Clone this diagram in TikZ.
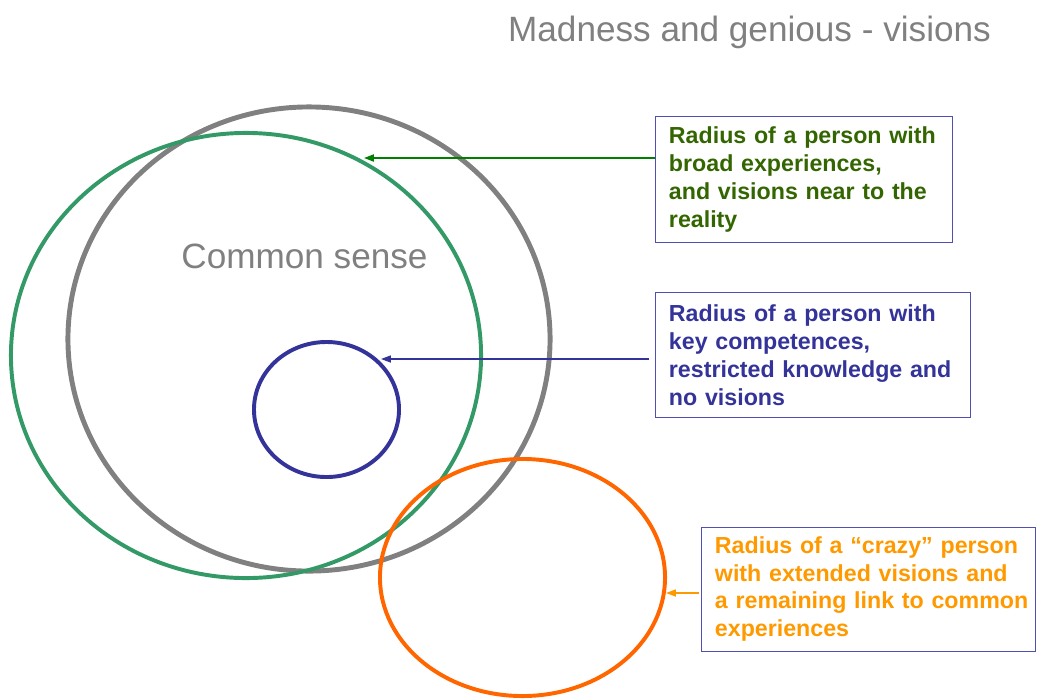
\documentclass[tikz,border=0pt]{standalone}
\usepackage{fontspec}
\setmainfont{Liberation Sans}
\usepackage{xcolor}
\usetikzlibrary{shapes.geometric,arrows.meta}

\definecolor{csgray}{RGB}{128,128,128}
\definecolor{broadgreen}{RGB}{51,153,102}
\definecolor{broadtext}{RGB}{51,102,0}
\definecolor{broadarrow}{RGB}{0,128,0}
\definecolor{keyblue}{RGB}{51,51,153}
\definecolor{crazyorange}{RGB}{255,102,0}
\definecolor{crazytext}{RGB}{255,153,0}
\definecolor{boxline}{RGB}{80,80,180}

\begin{document}
\begin{tikzpicture}[x=0.025cm,y=-0.025cm,
    radius/.style={draw, ellipse, inner sep=0pt},
    infobox/.style={draw=boxline, line width=0.7pt, rectangle, align=left,
        inner xsep=0.325cm, font=\fontsize{16.5}{19.8}\selectfont\bfseries},
    pointer/.style={-{Triangle[length=7pt,width=5pt]}, line width=1.2pt}]
    \useasboundingbox (0,0) rectangle (1037,698);

    % Title
    \node[text=csgray, font=\fontsize{25}{30}\selectfont] (title) at (749.5,32) {Madness and genious - visions};

    % Circles
    \node[radius, draw=csgray, line width=3.5pt, minimum width=12.05cm, minimum height=11.6cm] (common) at (309,339) {};
    \node[radius, draw=broadgreen, line width=2.8pt, minimum width=11.75cm, minimum height=11.125cm] (broad) at (246,355.5) {};
    \node[radius, draw=keyblue, line width=2.8pt, minimum width=3.625cm, minimum height=3.375cm] (key) at (326.5,409.5) {};
    \node[radius, draw=crazyorange, line width=2.8pt, minimum width=7.125cm, minimum height=5.925cm] (crazy) at (522.5,577.5) {};
    \node[text=csgray, font=\fontsize{25}{30}\selectfont] (commonsense) at (304.5,256) {Common sense};

    % Boxes
    \node[infobox, text=broadtext, text width=6.75cm, minimum width=7.4cm, minimum height=3.125cm] (broadbox) at (804,179.5)
        {Radius of a person with\\broad experiences,\\and visions near to the\\reality};
    \node[infobox, text=keyblue, text width=7.2cm, minimum width=7.85cm, minimum height=3.1cm] (keybox) at (813,355)
        {Radius of a person with\\key competences,\\restricted knowledge and\\no visions};
    \node[infobox, text=crazytext, text width=7.675cm, minimum width=8.325cm, minimum height=3.1cm] (crazybox) at (868.5,589)
        {Radius of a “crazy” person\\with extended visions and\\\mbox{a remaining link to common}\\experiences};

    % Pointers
    \coordinate (broadtip) at (364,158);
    \coordinate (keytip) at (381,359);
    \coordinate (crazytip) at (666,593);
    \draw[pointer, broadarrow] (broadbox.west |- broadtip) -- (broadtip);
    \draw[pointer, keyblue, line width=1pt] ([xshift=-0.15cm]keybox.west |- keytip) -- (keytip);
    \draw[pointer, crazytext, line width=1pt] ([xshift=-0.05cm]crazybox.west |- crazytip) -- (crazytip);
\end{tikzpicture}
\end{document}
